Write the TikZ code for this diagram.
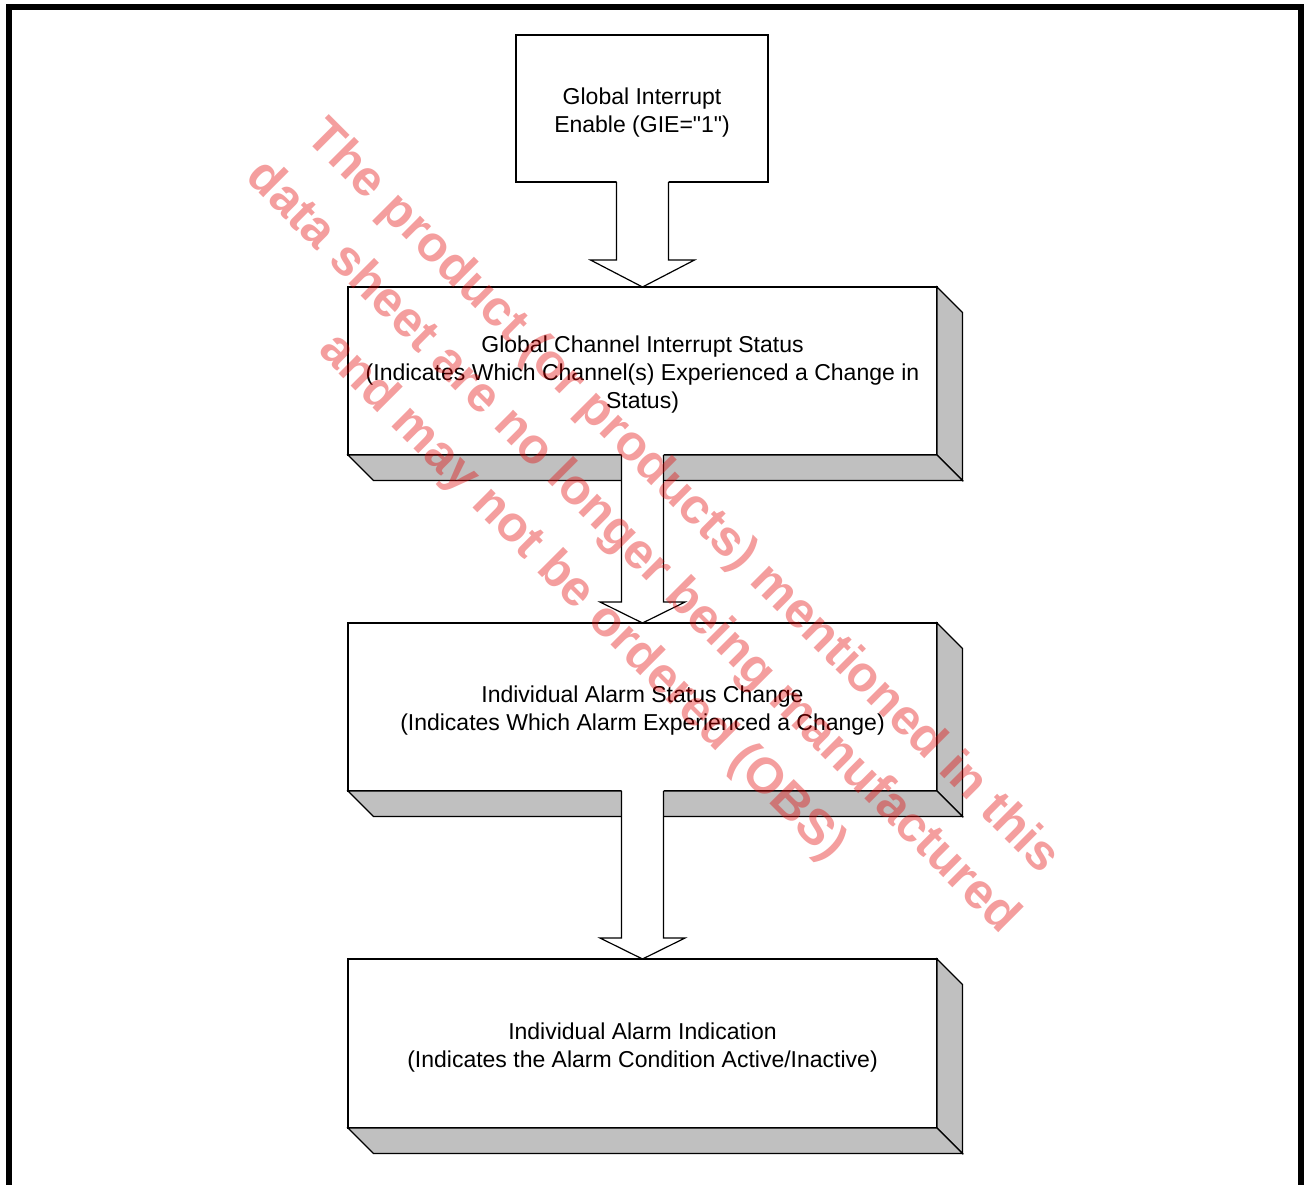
\documentclass[tikz,border=0pt]{standalone}
\usepackage{fontspec}
\setmainfont{Liberation Sans}[Ligatures=TeXOff]
\usetikzlibrary{calc}
\definecolor{boxgray}{RGB}{192,192,192}
\definecolor{wmred}{RGB}{228,0,0}
\newcommand\extrude[1]{%
  \filldraw[ext] (#1.north east) -- ++(25.5,25.5) -- ($(#1.south east)+(25.5,25.5)$) -- (#1.south east) -- cycle;
  \filldraw[ext] (#1.south west) -- ++(25.5,25.5) -- ($(#1.south east)+(25.5,25.5)$) -- (#1.south east) -- cycle;}
\newcommand\blockarrow[5]{% from, to, half shaft, half head, head length
  \coordinate (tip) at (#2.north);
  \coordinate (top) at (tip |- #1.south);
  \coordinate (base) at ($(tip)+(0,-#5)$);
  \fill[white] ($(top)+(-#3,-1.5)$) -- ($(base)+(-#3,0)$) -- ($(base)+(-#4,0)$) -- (tip) -- ($(base)+(#4,0)$) -- ($(base)+(#3,0)$) -- ($(top)+(#3,-1.5)$) -- cycle;
  \draw[arr] ($(top)+(-#3,0)$) -- ($(base)+(-#3,0)$) -- ($(base)+(-#4,0)$) -- (tip) -- ($(base)+(#4,0)$) -- ($(base)+(#3,0)$) -- ($(top)+(#3,0)$);}
\newcommand\sstrut{\rule{0pt}{24pt}}
\begin{document}
\begin{tikzpicture}[x=1pt,y=-1pt,
  box/.style={draw=black, line width=1.2pt, fill=white, rectangle, inner sep=0pt, outer sep=0pt, align=center, font=\fontsize{23}{28}\selectfont},
  ext/.style={draw=black, line width=1.2pt, fill=boxgray, line join=miter},
  arr/.style={draw=black, line width=1.2pt, line join=miter},
  wm/.style={text=wmred, text opacity=0.38, font=\fontsize{50}{71}\selectfont\bfseries, align=center, rotate=-45, inner sep=0pt}]
\useasboundingbox (0,0) rectangle (1304,1184);
\clip (0,0) rectangle (1304,1184);
\fill[white] (0,0) rectangle (1304,1184);
\draw[line width=6pt] (9,7) rectangle (1301,1195);

\node[box, minimum width=252pt, minimum height=147pt] (gie) at (642,108.5) {\sstrut Global Interrupt\\Enable (GIE="1")};
\node[box, minimum width=589pt, minimum height=168pt] (gcis) at (642.5,371) {\sstrut Global Channel Interrupt Status\\(Indicates Which Channel(s) Experienced a Change in\\Status)};
\extrude{gcis}
\node[box, minimum width=589pt, minimum height=168pt] (iasc) at (642.5,707) {\sstrut Individual Alarm Status Change\\(Indicates Which Alarm Experienced a Change)};
\extrude{iasc}
\node[box, minimum width=589pt, minimum height=169pt] (iai) at (642.5,1043.5) {\sstrut Individual Alarm Indication\\(Indicates the Alarm Condition Active/Inactive)};
\extrude{iai}

\blockarrow{gie}{gcis}{26}{52}{27}
\blockarrow{gcis}{iasc}{21}{42.5}{21}
\blockarrow{iasc}{iai}{21}{42.5}{21}

\node[wm] (wm) at (632,548) {The product (or products) mentioned in this\\data sheet are no longer being manufactured\\and may not be ordered (OBS)};
\end{tikzpicture}
\end{document}
